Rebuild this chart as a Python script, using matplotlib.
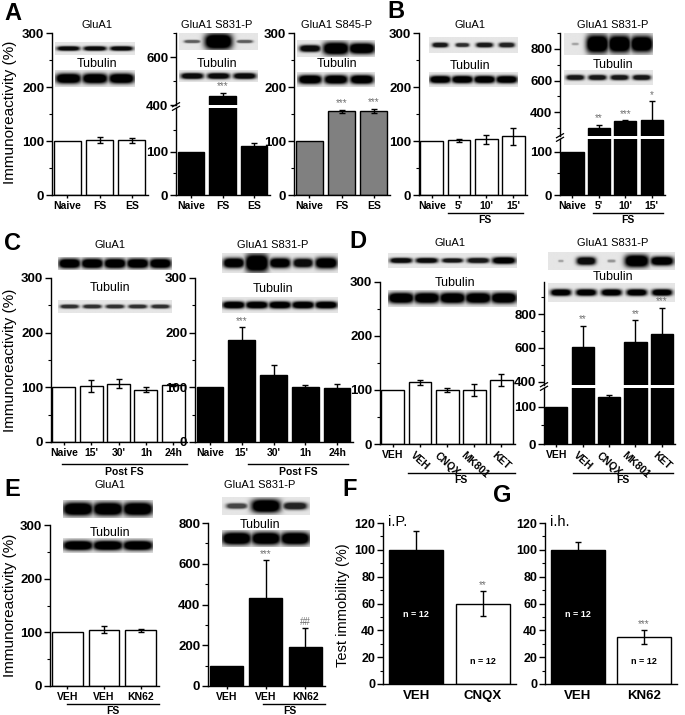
import numpy as np
import matplotlib
matplotlib.use("Agg")
import matplotlib.pyplot as plt
from matplotlib.lines import Line2D

W, H = 685, 715

plt.rcParams.update({
    "font.family": ["Liberation Sans", "DejaVu Sans"],
    "axes.linewidth": 1.0,
    "axes.facecolor": "none",
    "xtick.major.width": 1.0,
    "ytick.major.width": 1.0,
    "ytick.minor.width": 0.8,
})

# ---- data ----
A_labels = ["Naive", "FS", "ES"]
A1_mean = [100, 102, 101]
A1_err = [0, 6, 4]
A2_mean = [100, 437, 112]
A2_err = [0, 15, 7]
A2_sig = ["", "***", ""]
A3_mean = [100, 155, 156]
A3_err = [0, 3, 4]
A3_sig = ["", "***", "***"]

B_labels = ["Naive", "5'", "10'", "15'"]
B1_mean = [100, 101, 103, 109]
B1_err = [0, 2, 8, 16]
B2_mean = [100, 303, 342, 348]
B2_err = [0, 18, 6, 122]
B2_sig = ["", "**", "***", "*"]

C_labels = ["Naive", "15'", "30'", "1h", "24h"]
C1_mean = [100, 102, 107, 96, 104]
C1_err = [0, 11, 8, 4, 2]
C2_mean = [100, 187, 123, 101, 98]
C2_err = [0, 23, 17, 3, 9]
C2_sig = ["", "***", "", "", ""]

D_labels = ["VEH", "VEH", "CNQX", "MK801", "KET"]
D1_mean = [100, 114, 100, 100, 118]
D1_err = [0, 5, 3, 12, 11]
D2_mean = [100, 608, 125, 637, 683]
D2_err = [0, 122, 6, 125, 155]
D2_sig = ["", "**", "", "**", "***"]

E_labels = ["VEH", "VEH", "KN62"]
E1_mean = [100, 105, 104]
E1_err = [0, 6, 3]
E2_mean = [100, 434, 193]
E2_err = [0, 183, 90]
E2_sig = ["", "***", "##"]

F_labels = ["VEH", "CNQX"]
F_mean = [100, 60]
F_err = [14, 9]
F_sig = ["", "**"]
G_labels = ["VEH", "KN62"]
G_mean = [100, 35]
G_err = [6, 5]
G_sig = ["", "***"]

# blot lanes: (darkness, band width, band height)
A1_blot = [(0.95, 0.85, 0.35)] * 3
A1_tub = [(1.0, 0.95, 0.6)] * 3
A2_blot = [(0.6, 0.6, 0.18), (1.0, 1.05, 0.95), (0.6, 0.6, 0.18)]
A2_tub = [(0.95, 0.85, 0.5)] * 3
A3_blot = [(0.95, 0.8, 0.4), (1.0, 1.0, 0.75), (1.0, 1.0, 0.65)]
A3_tub = [(1.0, 0.9, 0.6)] * 3
B1_blot = [(0.9, 0.7, 0.3), (0.8, 0.6, 0.25), (0.9, 0.75, 0.3), (0.85, 0.7, 0.3)]
B1_tub = [(1.0, 0.95, 0.5)] * 4
B2_blot = [(0.3, 0.3, 0.1), (1.0, 1.0, 0.85), (1.0, 1.0, 0.8), (1.0, 1.0, 0.75)]
B2_tub = [(0.9, 0.8, 0.35)] * 4
C1_blot = [(1.0, 0.95, 0.75)] * 5
C1_tub = [(0.8, 0.8, 0.3)] * 5
C2_blot = [(1.0, 0.9, 0.5), (1.0, 1.0, 0.9), (1.0, 0.9, 0.5), (0.95, 0.85, 0.45), (1.0, 0.95, 0.55)]
C2_tub = [(1.0, 0.95, 0.45)] * 5
D1_blot = [(0.95, 0.85, 0.35), (0.95, 0.85, 0.35), (0.9, 0.8, 0.3), (0.9, 0.85, 0.35), (1.0, 0.9, 0.45)]
D1_tub = [(1.0, 1.0, 0.6)] * 5
D2_blot = [(0.3, 0.2, 0.12), (0.95, 0.75, 0.45), (0.35, 0.3, 0.15), (1.0, 0.95, 0.7), (1.0, 0.9, 0.5)]
D2_tub = [(1.0, 0.8, 0.35)] * 5
E1_blot = [(1.0, 1.0, 0.75)] * 3
E1_tub = [(1.0, 1.0, 0.65)] * 3
E2_blot = [(0.7, 0.7, 0.3), (1.0, 1.0, 0.75), (0.85, 0.8, 0.4)]
E2_tub = [(1.0, 1.0, 0.75)] * 3


fig = plt.figure(figsize=(W / 100, H / 100), dpi=100)


def ax_at(l, t, r, b, z=2):
    ax = fig.add_axes([l / W, 1 - b / H, (r - l) / W, (b - t) / H])
    ax.set_zorder(z)
    return ax


def txt(x, y, s, size=8, weight="normal", **kw):
    kw.setdefault("ha", "center")
    kw.setdefault("va", "center")
    fig.text(x / W, 1 - y / H, s, fontsize=size, fontweight=weight, **kw)


def fline(x0, x1, y0, y1, lw=1.0):
    fig.add_artist(Line2D([x0 / W, x1 / W], [1 - y0 / H, 1 - y1 / H],
                          color="black", lw=lw))


def style_y(ax, ylim, major, minor, size=9.5):
    ax.set_ylim(*ylim)
    ax.set_yticks(major, labels=[str(v) for v in major],
                  fontsize=size, fontweight="bold")
    ax.set_yticks(minor, minor=True)
    ax.tick_params(axis="y", which="major", length=4, pad=1.5)
    ax.tick_params(axis="y", which="minor", length=2)
    ax.spines[["top", "right"]].set_visible(False)


def style_x(ax, labels, size=7.5, pad=2):
    ax.set_xticks(np.arange(len(labels)), labels=labels,
                  fontsize=size, fontweight="bold")
    ax.tick_params(axis="x", length=2.5, pad=pad)


def no_x(ax):
    ax.spines["bottom"].set_visible(False)
    ax.tick_params(axis="x", bottom=False, labelbottom=False)


def bars(ax, means, errs, color, width=0.84, xlim=None):
    x = np.arange(len(means))
    m = np.array(means, float)
    e = np.array(errs, float)
    ax.bar(x, m, width=width, color=color, edgecolor="black",
           linewidth=1.0, zorder=2)
    k = e > 0
    ax.errorbar(x[k], m[k], yerr=e[k], fmt="none", ecolor="black",
                elinewidth=1.0, capsize=2, capthick=1.0, zorder=3)
    ax.set_xlim(*(xlim or (-0.47, len(means) - 0.5)))


def stars(ax, means, errs, sig, size=7):
    for i, s in enumerate(sig):
        if s:
            ax.annotate(s, (i, means[i] + errs[i]), xytext=(0, 1),
                        textcoords="offset points", ha="center", va="bottom",
                        fontsize=size, color="#707070")


def blot(l, t, r, b, lanes):
    ax = ax_at(l, t, r, b, z=1)
    yy, xx = np.mgrid[0:1:40j, 0:1:240j]
    img = np.zeros_like(xx)
    n = len(lanes)
    for i, (d, wf, hf) in enumerate(lanes):
        cx = (i + 0.5) / n
        wx = 0.5 / n * wf
        band = np.exp(-np.abs((xx - cx) / wx) ** 4
                      - np.abs((yy - 0.5) / (0.5 * hf)) ** 2.5)
        img = np.maximum(img, d * np.clip(1.6 * band, 0, 1))
    ax.imshow(0.9 * (1 - img), cmap="gray", vmin=0, vmax=1,
              aspect="auto", interpolation="bilinear")
    ax.axis("off")


def simple_panel(l, t, r, b, labels, means, errs, color, ylim, major, minor,
                 sig=None):
    ax = ax_at(l, t, r, b)
    bars(ax, means, errs, color)
    style_y(ax, ylim, major, minor)
    style_x(ax, labels)
    if sig:
        stars(ax, means, errs, sig)
    return ax


def broken_panel(l, r, t, gt, gb, b, labels, means, errs, up_lim, up_major,
                 up_minor, lo_lim, lo_major, lo_minor, sig):
    up = ax_at(l, t, r, gt)
    lo = ax_at(l, gb, r, b)
    for ax in (up, lo):
        bars(ax, means, errs, "black")
    style_y(up, up_lim, up_major, up_minor)
    style_y(lo, lo_lim, lo_major, lo_minor)
    no_x(up)
    style_x(lo, labels)
    stars(up, means, errs, sig)
    y = (gt + gb) / 2
    for dy in (-1.8, 1.8):
        fline(l - 3.5, l + 3.5, y + dy + 2, y + dy - 2, lw=0.9)
    return lo


# ---- panel A ----
txt(13, 13, "A", size=17, weight="bold")
simple_panel(52, 33, 148, 195, A_labels, A1_mean, A1_err, "white",
             (0, 300), [0, 100, 200, 300], [50, 150, 250])
broken_panel(176, 270, 33, 105, 108, 195, A_labels, A2_mean, A2_err,
             (400, 700), [400, 600], [500, 700],
             (0, 200), [0, 100], [50, 150], A2_sig)
simple_panel(294, 33, 390, 195, A_labels, A3_mean, A3_err, "#808080",
             (0, 300), [0, 100, 200, 300], [50, 150, 250], A3_sig)
blot(55, 42, 135, 55, A1_blot)
blot(55, 70, 135, 87, A1_tub)
blot(179, 33, 258, 50, A2_blot)
blot(179, 70, 258, 82, A2_tub)
blot(297, 40, 375, 57, A3_blot)
blot(297, 72, 375, 87, A3_tub)
txt(97, 25, "GluA1")
txt(217, 25, "GluA1 S831-P")
txt(337, 25, "GluA1 S845-P")
for x in (97, 217, 337):
    txt(x, 64, "Tubulin", size=9)
txt(10, 112, "Immunoreactivity (%)", size=11, rotation=90)

# ---- panel B ----
txt(396, 12, "B", size=17, weight="bold")
simple_panel(419, 33, 527, 195, B_labels, B1_mean, B1_err, "white",
             (0, 300), [0, 100, 200, 300], [50, 150, 250])
broken_panel(560, 665, 33, 136, 139, 195, B_labels, B2_mean, B2_err,
             (250, 900), [400, 600, 800], [300, 500, 700, 900],
             (0, 130), [0, 100], [50], B2_sig)
blot(429, 37, 518, 53, B1_blot)
blot(429, 72, 518, 87, B1_tub)
blot(564, 33, 653, 55, B2_blot)
blot(564, 70, 653, 85, B2_tub)
txt(470, 25, "GluA1")
txt(613, 25, "GluA1 S831-P")
txt(470, 66, "Tubulin", size=9)
txt(613, 65, "Tubulin", size=9)
fline(448, 523, 213, 213)
txt(485, 220, "FS", size=7.5, weight="bold")
fline(593, 663, 213, 213)
txt(628, 220, "FS", size=7.5, weight="bold")

# ---- panel C ----
txt(12, 243, "C", size=17, weight="bold")
simple_panel(51, 278, 187, 442, C_labels, C1_mean, C1_err, "white",
             (0, 300), [0, 100, 200, 300], [50, 150, 250])
simple_panel(195, 278, 353, 442, C_labels, C2_mean, C2_err, "black",
             (0, 300), [0, 100, 200, 300], [50, 150, 250], C2_sig)
blot(58, 257, 172, 270, C1_blot)
blot(58, 300, 172, 313, C1_tub)
blot(222, 253, 337, 273, C2_blot)
blot(222, 297, 337, 313, C2_tub)
txt(110, 245, "GluA1")
txt(273, 245, "GluA1 S831-P")
txt(110, 288, "Tubulin", size=9)
txt(273, 289, "Tubulin", size=9)
txt(10, 360, "Immunoreactivity (%)", size=11, rotation=90)
fline(62, 187, 464, 464)
txt(124, 472, "Post FS", size=7.5, weight="bold")
fline(248, 348, 464, 464)
txt(298, 472, "Post FS", size=7.5, weight="bold")

# ---- panel D ----
txt(358, 242, "D", size=17, weight="bold")
d1 = simple_panel(380, 282, 515, 444, D_labels, D1_mean, D1_err, "white",
                  (0, 300), [0, 100, 200, 300], [50, 150, 250])
d2 = broken_panel(544, 675, 282, 385, 388, 444, D_labels, D2_mean, D2_err,
                  (380, 990), [400, 600, 800], [500, 700, 900],
                  (0, 150), [0, 100], [50], D2_sig)
for ax in (d1, d2):
    for lab in ax.get_xticklabels()[1:]:
        lab.set_rotation(-42)
blot(388, 253, 517, 268, D1_blot)
blot(388, 290, 517, 307, D1_tub)
blot(548, 252, 675, 270, D2_blot)
blot(548, 283, 675, 302, D2_tub)
txt(450, 243, "GluA1")
txt(613, 243, "GluA1 S831-P")
txt(455, 283, "Tubulin", size=9)
txt(613, 277, "Tubulin", size=9)
fline(408, 515, 473, 473)
txt(461, 480, "FS", size=7.5, weight="bold")
fline(573, 673, 473, 473)
txt(623, 480, "FS", size=7.5, weight="bold")

# ---- panel E ----
txt(12, 490, "E", size=17, weight="bold")
simple_panel(50, 525, 159, 686, E_labels, E1_mean, E1_err, "white",
             (0, 300), [0, 100, 200, 300], [50, 150, 250])
simple_panel(208, 523, 325, 686, E_labels, E2_mean, E2_err, "black",
             (0, 800), [0, 200, 400, 600, 800], [100, 300, 500, 700], E2_sig)
blot(63, 500, 153, 518, E1_blot)
blot(63, 538, 153, 553, E1_tub)
blot(222, 497, 310, 515, E2_blot)
blot(222, 530, 310, 547, E2_tub)
txt(110, 485, "GluA1")
txt(260, 485, "GluA1 S831-P")
txt(110, 533, "Tubulin", size=9)
txt(260, 525, "Tubulin", size=9)
txt(10, 605, "Immunoreactivity (%)", size=11, rotation=90)
fline(67, 159, 704, 704)
txt(113, 711, "FS", size=7.5, weight="bold")
fline(263, 325, 704, 704)
txt(290, 711, "FS", size=7.5, weight="bold")

# ---- panels F and G ----
txt(350, 490, "F", size=17, weight="bold")
txt(502, 495, "G", size=17, weight="bold")
for l, r, means, errs, labels, sig, route in (
        (383, 516, F_mean, F_err, F_labels, F_sig, "i.P."),
        (545, 677, G_mean, G_err, G_labels, G_sig, "i.h.")):
    ax = ax_at(l, 523, r, 684)
    x = np.arange(2)
    ax.bar(x, means, width=0.81, color=["black", "white"],
           edgecolor="black", linewidth=1.0, zorder=2)
    ax.errorbar(x, means, yerr=errs, fmt="none", ecolor="black",
                elinewidth=1.0, capsize=2, capthick=1.0, zorder=3)
    ax.set_xlim(-0.5, 1.5)
    style_y(ax, (0, 120), list(range(0, 121, 20)), list(range(10, 120, 20)),
            size=9)
    style_x(ax, labels, size=9.5, pad=4)
    ax.tick_params(axis="x", length=0)
    stars(ax, means, errs, sig)
    ax.text(-0.42, 121, route, fontsize=10.5, va="center", ha="left")
    ax.text(0, 52, "n = 12", color="white", fontsize=6.5,
            fontweight="bold", ha="center", va="center")
    ax.text(1, 17, "n = 12", color="black", fontsize=6.5,
            fontweight="bold", ha="center", va="center")
txt(343, 605, "Test immobility (%)", size=10.5, rotation=90)

fig.savefig("out.png", dpi=100, facecolor="white")
